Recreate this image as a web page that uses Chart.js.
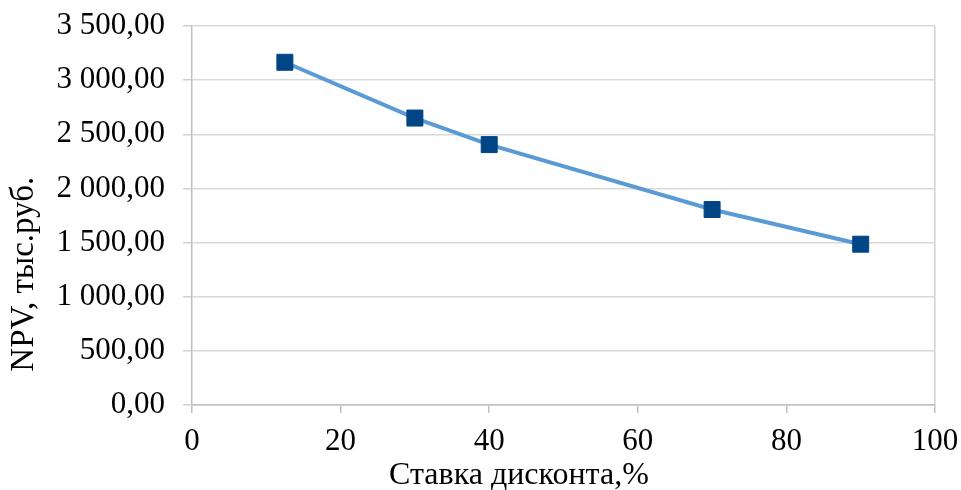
<!DOCTYPE html>
<html>
<head>
<meta charset="utf-8">
<script src="https://cdn.jsdelivr.net/npm/chart.js"></script>
<style>
  html, body { margin: 0; padding: 0; background: #fff; }
  #wrap { width: 961px; height: 490px; }
</style>
</head>
<body>
<div id="wrap"><canvas id="npvChart" width="961" height="490"></canvas></div>
<script>
// NPV vs discount rate
const discountRates = [12.5, 30, 40, 70, 90];
const npvValues = [3165, 2650, 2405, 1805, 1485];
const xTitle = 'Ставка дисконта,%';
const yTitle = 'NPV, тыс.руб.';

const serif = "'Liberation Serif', 'Times New Roman', serif";
const fontSize = 31;

function fmtRub(v) {
    const parts = v.toFixed(2).split('.');
    const int = parts[0].replace(/\B(?=(\d{3})+(?!\d))/g, ' ');
    return int + ',' + parts[1];
}

// axis titles placed like the Excel original (off-centre)
const axisTitles = {
    id: 'axisTitles',
    afterDraw(chart) {
        const ctx = chart.ctx;
        const a = chart.chartArea;
        ctx.save();
        ctx.fillStyle = '#000';
        ctx.font = '32px ' + serif;
        ctx.textAlign = 'center';
        ctx.textBaseline = 'middle';
        ctx.fillText(xTitle, a.left + (a.right - a.left) * 0.44, a.bottom + 71);
        ctx.font = '33px ' + serif;
        ctx.translate(24, a.top + (a.bottom - a.top) * 0.655);
        ctx.rotate(-Math.PI / 2);
        ctx.fillText(yTitle, 0, 0);
        ctx.restore();
    }
};

new Chart(document.getElementById('npvChart').getContext('2d'), {
    type: 'scatter',
    data: {
        datasets: [{
            label: 'NPV',
            data: discountRates.map((x, i) => ({ x: x, y: npvValues[i] })),
            showLine: true,
            borderColor: '#5B9BD5',
            borderWidth: 4,
            backgroundColor: '#004586',
            pointStyle: 'rect',
            pointRadius: 11.3,
            pointHoverRadius: 11.3,
            pointBorderColor: '#004586',
            pointBorderWidth: 1
        }]
    },
    options: {
        responsive: false,
        animation: false,
        layout: { autoPadding: false, padding: { top: 26, right: 26, left: 0, bottom: 0 } },
        plugins: { legend: { display: false }, tooltip: { enabled: false } },
        scales: {
            x: {
                type: 'linear',
                min: 0, max: 100,
                ticks: { stepSize: 20, color: '#000', font: { family: serif, size: fontSize }, padding: 10, maxRotation: 0 },
                grid: {
                    color: c => (c.tick && c.tick.value === 100) ? '#d0d0d0' : 'rgba(0,0,0,0)',
                    tickColor: '#c0c0c0', tickLength: 8, lineWidth: 1.5
                },
                border: { color: '#c0c0c0', width: 1.5 },
                afterFit(s) { s.height = 85; s.paddingLeft = 0; s.paddingRight = 0; }
            },
            y: {
                type: 'linear',
                min: 0, max: 3500,
                ticks: { stepSize: 500, color: '#000', font: { family: serif, size: fontSize }, padding: 18, callback: v => fmtRub(v) },
                grid: { color: '#d9d9d9', tickColor: '#d0d0d0', tickLength: 9, lineWidth: 1.5 },
                border: { color: '#c0c0c0', width: 1.5 },
                afterFit(s) { s.width = 192; s.paddingTop = 0; s.paddingBottom = 0; }
            }
        }
    },
    plugins: [axisTitles]
});
</script>
</body>
</html>
